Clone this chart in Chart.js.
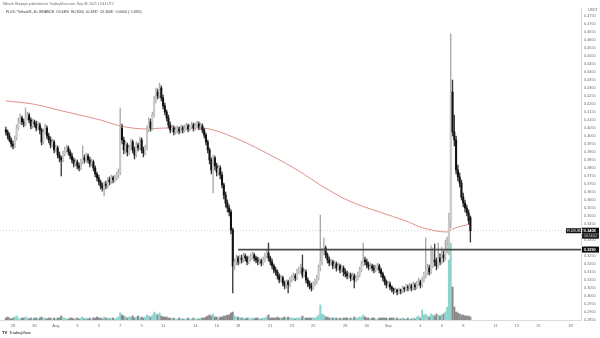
<!DOCTYPE html>
<html>
<head>
<meta charset="utf-8">
<title>FLUX / TetherUS 4h</title>
<script src="https://cdn.jsdelivr.net/npm/chart.js@4.4.1/dist/chart.umd.min.js"></script>
<style>
  html, body { margin: 0; padding: 0; background: #ffffff; overflow: hidden; }
  #wrap { position: relative; width: 600px; height: 338px; }
</style>
</head>
<body>
<div id="wrap"><canvas id="c" width="600" height="338"></canvas></div>
<script>
// 4h candles, Jul 27 08:00 UTC to Sep 8 16:00 UTC
const openP = [
  .4038,.4025,.4000,.3975,.3950,.3938,.3988,.4050,.4094,.4113,
  .4088,.4075,.4113,.4131,.4100,.4063,.4088,.4075,.4050,.4069,
  .4038,.3963,.4025,.4050,.4000,.3975,.3944,.3963,.3913,.3925,
  .3881,.3863,.3850,.3888,.3913,.3925,.3900,.3875,.3850,.3825,
  .3838,.3813,.3800,.3838,.3863,.3850,.3875,.3850,.3825,.3838,
  .3800,.3763,.3738,.3713,.3688,.3675,.3700,.3688,.3725,.3713,
  .3738,.3725,.3738,.3756,.3775,.4050,.3975,.3913,.3944,.3900,
  .3925,.3963,.3913,.3881,.3944,.3925,.3975,.3913,.3894,.3925,
  .4038,.4088,.4050,.4131,.4225,.4275,.4250,.4300,.4238,.4188,
  .4150,.4113,.4069,.4038,.4050,.4025,.4038,.4044,.4031,.4050,
  .4038,.4050,.4063,.4044,.4056,.4069,.4050,.4063,.4075,.4056,
  .4063,.4038,.4006,.3963,.3913,.3850,.3788,.3863,.3813,.3775,
  .3800,.3756,.3694,.3631,.3581,.3550,.3525,.3413,.3188,.3213,
  .3238,.3213,.3238,.3225,.3250,.3238,.3213,.3231,.3244,.3256,
  .3238,.3225,.3213,.3219,.3206,.3225,.3250,.3269,.3238,.3213,
  .3188,.3163,.3150,.3125,.3100,.3113,.3081,.3063,.3088,.3069,
  .3100,.3113,.3125,.3113,.3150,.3163,.3175,.3131,.3150,.3100,
  .3075,.3063,.3050,.3075,.3088,.3113,.3175,.3213,.3275,.3300,
  .3256,.3225,.3206,.3213,.3188,.3200,.3175,.3188,.3163,.3175,
  .3150,.3138,.3125,.3131,.3113,.3125,.3100,.3113,.3131,.3163,
  .3200,.3225,.3213,.3194,.3181,.3188,.3175,.3163,.3175,.3188,
  .3163,.3138,.3113,.3088,.3069,.3075,.3056,.3044,.3031,.3038,
  .3025,.3038,.3031,.3050,.3044,.3056,.3050,.3063,.3050,.3069,
  .3056,.3075,.3088,.3069,.3100,.3125,.3150,.3175,.3150,.3194,
  .3225,.3213,.3188,.3238,.3213,.3256,.3238,.3288,.3313,.3463,
  .4275,.4025,.3975,.3788,.3744,.3706,.3619,.3581,.3550,.3519,.3490
];
const highP = [
  .4056,.4038,.4019,.3988,.3969,.4000,.4069,.4113,.4138,.4125,
  .4106,.4175,.4150,.4144,.4113,.4106,.4100,.4094,.4088,.4081,
  .4050,.4044,.4075,.4063,.4019,.3994,.3981,.3975,.3944,.3938,
  .3900,.3875,.3906,.3931,.3944,.3938,.3913,.3894,.3863,.3856,
  .3850,.3831,.3856,.3938,.3881,.3894,.3888,.3869,.3856,.3850,
  .3813,.3775,.3756,.3725,.3706,.3713,.3719,.3738,.3744,.3756,
  .3750,.3756,.3775,.3794,.4175,.4075,.3994,.3969,.3956,.3944,
  .3981,.3975,.3931,.3963,.3956,.3994,.3988,.3931,.3944,.4063,
  .4113,.4106,.4150,.4250,.4300,.4294,.4331,.4313,.4256,.4206,
  .4163,.4131,.4088,.4069,.4063,.4056,.4063,.4056,.4069,.4063,
  .4069,.4081,.4075,.4075,.4088,.4081,.4081,.4094,.4088,.4081,
  .4075,.4050,.4019,.3975,.3925,.3863,.3881,.3875,.3831,.3819,
  .3813,.3775,.3706,.3650,.3600,.3569,.3538,.3425,.3231,.3256,
  .3250,.3256,.3256,.3269,.3263,.3250,.3250,.3263,.3275,.3269,
  .3250,.3244,.3238,.3231,.3244,.3269,.3288,.3331,.3250,.3231,
  .3200,.3181,.3163,.3138,.3131,.3125,.3094,.3100,.3100,.3119,
  .3131,.3144,.3138,.3169,.3181,.3200,.3256,.3169,.3163,.3113,
  .3094,.3081,.3088,.3106,.3131,.3194,.3506,.3300,.3363,.3313,
  .3269,.3244,.3231,.3225,.3219,.3213,.3206,.3200,.3194,.3188,
  .3169,.3156,.3150,.3144,.3144,.3138,.3131,.3150,.3181,.3219,
  .3331,.3244,.3231,.3213,.3206,.3200,.3194,.3194,.3206,.3200,
  .3175,.3150,.3125,.3100,.3094,.3088,.3063,.3050,.3050,.3044,
  .3050,.3044,.3063,.3056,.3075,.3069,.3081,.3075,.3088,.3081,
  .3094,.3113,.3100,.3119,.3150,.3363,.3200,.3194,.3313,.3300,
  .3325,.3238,.3331,.3263,.3306,.3281,.3350,.3369,.3519,.4638,
  .4350,.4131,.4000,.3819,.3769,.3725,.3644,.3600,.3569,.3538,.3500
];
const lowP = [
  .4006,.3981,.3963,.3931,.3919,.3925,.3975,.4038,.4075,.4069,
  .4056,.4063,.4100,.4081,.4044,.4050,.4056,.4031,.4038,.4013,
  .3944,.3950,.4013,.3981,.3956,.3925,.3931,.3894,.3900,.3863,
  .3838,.3750,.3838,.3875,.3900,.3881,.3856,.3831,.3806,.3813,
  .3794,.3781,.3788,.3825,.3831,.3838,.3831,.3806,.3813,.3781,
  .3744,.3719,.3694,.3669,.3656,.3625,.3669,.3675,.3694,.3700,
  .3706,.3713,.3725,.3738,.3756,.3950,.3888,.3894,.3875,.3881,
  .3913,.3894,.3856,.3869,.3906,.3913,.3894,.3869,.3881,.3913,
  .4025,.4031,.4038,.4119,.4206,.4231,.4238,.4219,.4169,.4131,
  .4094,.4050,.4019,.4025,.4006,.4013,.4019,.4013,.4019,.4019,
  .4025,.4038,.4025,.4031,.4044,.4031,.4038,.4050,.4038,.4038,
  .4019,.3988,.3944,.3894,.3825,.3763,.3644,.3788,.3750,.3756,
  .3731,.3675,.3606,.3556,.3525,.3500,.3388,.3019,.3163,.3194,
  .3194,.3200,.3206,.3213,.3219,.3194,.3200,.3219,.3231,.3219,
  .3206,.3194,.3200,.3188,.3194,.3213,.3238,.3219,.3194,.3169,
  .3144,.3131,.3106,.3081,.3088,.3063,.3044,.3050,.3019,.3056,
  .3088,.3100,.3094,.3100,.3138,.3144,.3113,.3119,.3081,.3056,
  .3044,.3031,.3038,.3063,.3075,.3100,.3156,.3194,.3256,.3238,
  .3206,.3188,.3194,.3169,.3175,.3156,.3163,.3144,.3150,.3125,
  .3119,.3106,.3113,.3094,.3100,.3050,.3088,.3100,.3119,.3150,
  .3188,.3194,.3175,.3163,.3169,.3156,.3144,.3150,.3163,.3144,
  .3119,.3094,.3069,.3050,.3056,.3038,.3025,.3013,.3019,.3006,
  .3013,.3013,.3019,.3025,.3031,.3031,.3038,.3031,.3038,.3038,
  .3044,.3063,.3050,.3056,.3088,.3113,.3131,.3131,.3138,.3175,
  .3188,.3163,.3175,.3194,.3200,.3213,.3225,.3269,.3256,.3425,
  .4000,.3938,.3763,.3719,.3681,.3600,.3556,.3525,.3500,.3450,.3337
];
const closeP = [
  .4025,.4000,.3975,.3950,.3938,.3988,.4050,.4094,.4113,.4088,
  .4075,.4113,.4131,.4100,.4063,.4088,.4075,.4050,.4069,.4038,
  .3963,.4025,.4050,.4000,.3975,.3944,.3963,.3913,.3925,.3881,
  .3863,.3850,.3888,.3913,.3925,.3900,.3875,.3850,.3825,.3838,
  .3813,.3800,.3838,.3863,.3850,.3875,.3850,.3825,.3838,.3800,
  .3763,.3738,.3713,.3688,.3675,.3700,.3688,.3725,.3713,.3738,
  .3725,.3738,.3756,.3775,.4050,.3975,.3913,.3944,.3900,.3925,
  .3963,.3913,.3881,.3944,.3925,.3975,.3913,.3894,.3925,.4038,
  .4088,.4050,.4131,.4225,.4275,.4250,.4300,.4238,.4188,.4150,
  .4113,.4069,.4038,.4050,.4025,.4038,.4044,.4031,.4050,.4038,
  .4050,.4063,.4044,.4056,.4069,.4050,.4063,.4075,.4056,.4063,
  .4038,.4006,.3963,.3913,.3850,.3788,.3863,.3813,.3775,.3800,
  .3756,.3694,.3631,.3581,.3550,.3525,.3413,.3188,.3213,.3238,
  .3213,.3238,.3225,.3250,.3238,.3213,.3231,.3244,.3256,.3238,
  .3225,.3213,.3219,.3206,.3225,.3250,.3269,.3238,.3213,.3188,
  .3163,.3150,.3125,.3100,.3113,.3081,.3063,.3088,.3069,.3100,
  .3113,.3125,.3113,.3150,.3163,.3175,.3131,.3150,.3100,.3075,
  .3063,.3050,.3075,.3088,.3113,.3175,.3213,.3275,.3300,.3256,
  .3225,.3206,.3213,.3188,.3200,.3175,.3188,.3163,.3175,.3150,
  .3138,.3125,.3131,.3113,.3125,.3100,.3113,.3131,.3163,.3200,
  .3225,.3213,.3194,.3181,.3188,.3175,.3163,.3175,.3188,.3163,
  .3138,.3113,.3088,.3069,.3075,.3056,.3044,.3031,.3038,.3025,
  .3038,.3031,.3050,.3044,.3056,.3050,.3063,.3050,.3069,.3056,
  .3075,.3088,.3069,.3100,.3125,.3150,.3175,.3150,.3194,.3225,
  .3213,.3188,.3238,.3213,.3256,.3238,.3288,.3313,.3463,.4275,
  .4025,.3975,.3788,.3744,.3706,.3619,.3581,.3550,.3519,.3472,.3408
];
// volume per candle, thousands of FLUX
const volumeK = [
  82,121,77,41,79,118,162,84,38,79,
  76,124,83,42,81,39,78,83,41,80,
  119,82,77,43,81,78,38,84,42,79,
  83,161,79,81,42,38,82,77,41,79,
  81,39,78,122,42,83,39,80,41,84,
  78,118,82,79,43,121,78,83,42,79,
  81,42,79,124,283,198,161,122,82,118,
  121,158,82,119,162,78,122,81,118,201,
  162,119,198,318,241,203,279,161,122,118,
  121,79,82,41,78,43,38,81,42,39,
  41,43,79,38,42,81,39,41,43,78,
  82,79,121,158,203,162,238,121,118,79,
  122,118,161,158,199,203,282,318,162,121,
  118,81,79,82,41,78,83,39,81,42,
  79,82,41,43,78,81,122,201,79,83,
  81,78,118,82,79,83,121,78,119,81,
  78,83,41,79,82,81,158,79,83,78,
  81,79,83,78,121,198,602,238,203,118,
  121,82,79,83,78,81,42,79,41,82,
  79,83,42,78,41,119,82,79,121,118,
  201,122,79,83,41,78,82,39,42,81,
  79,83,78,82,41,79,83,78,42,81,
  41,39,82,43,38,79,42,41,81,39,
  122,158,81,402,203,238,162,121,241,198,
  162,238,201,158,203,241,322,518,2403,3082,
  1318,522,321,279,238,201,198,162,158,161,119
];
// 200-period moving average, sampled at candle indices
const maIndex = [0, 15, 34, 53, 64, 78, 89, 109, 116, 131, 148, 165, 176, 191, 209, 224, 232, 247, 250, 260];
const maValue = [.4219,.4200,.4150,.4100,.4063,.4044,.4050,.4050,.4038,.3975,.3881,.3775,.3694,.3600,.3525,.3469,.3431,.3400,.3419,.3450];

// time axis in days from Jul 28 00:00 UTC
const firstCandleDay = -2 / 3;
const candleStep = 1 / 6;
const xMin = -1.213;
const xMax = 52.985;
const tickDays = [0, 2, 4, 6, 8, 10, 12, 14, 17, 19, 21, 24, 26, 28, 31, 33, 35, 38, 40, 42, 45, 47, 49, 52];
const tickText = ['28','30','Aug','3','5','7','9','11','14','16','18','21','23','25','28','30','Sep','4','6','8','11','13','15','18'];

const supportLevel = 0.3290;
const supportFromDay = 21;
const lastPrice = 0.3408;
const headerLine1 = 'Mikush Shepsye published on TradingView.com, Sep 08, 2021 19:43 UTC';
const headerLine2 = 'FLUX / TetherUS, 4h, BINANCE  O0.3490  H0.3500  L0.3337  C0.3408  \u22120.0064 (\u22121.83%)';
const FONT = '"Liberation Sans", Arial, sans-serif';

const candleDay = i => firstCandleDay + i * candleStep;
const isUp = i => closeP[i] >= openP[i];

const bodies = closeP.map((c, i) => ({ x: candleDay(i), y: [openP[i], c] }));
const wicks = highP.map((h, i) => ({ x: candleDay(i), y: [lowP[i], h] }));
const vols = volumeK.map((v, i) => ({ x: candleDay(i), y: v }));
const maLine = maIndex.map((k, j) => ({ x: candleDay(k), y: maValue[j] }));

const overlay = {
  id: 'overlay',
  afterDraw(chart) {
    const { ctx, chartArea: a, scales } = chart;
    const y = scales.y;
    ctx.save();
    ctx.textBaseline = 'middle';
    // header
    ctx.font = '3.4px ' + FONT;
    ctx.fillStyle = '#6b6b6b';
    ctx.fillText(headerLine1, 3, 4);
    ctx.fillStyle = '#333';
    ctx.fillText(headerLine2, 6, 12.5);
    // currency on the price scale
    ctx.font = '3.6px ' + FONT;
    ctx.fillStyle = '#666';
    ctx.fillText('USDT', 588, 10);

    const tag = (val, text, sub) => {
      const py = y.getPixelForValue(val);
      ctx.fillStyle = '#111';
      ctx.fillRect(a.right + 1, py - 3, 17, 6);
      ctx.fillStyle = '#fff';
      ctx.font = 'bold 3.8px ' + FONT;
      ctx.fillText(text, a.right + 3, py);
      if (sub) {
        ctx.fillStyle = '#222';
        ctx.fillRect(a.right + 1, py + 3, 17, 5);
        ctx.fillStyle = '#ddd';
        ctx.font = '3.2px ' + FONT;
        ctx.fillText(sub, a.right + 3.5, py + 5.5);
      }
      return py;
    };
    const py = tag(lastPrice, lastPrice.toFixed(4), '00:16:52');
    // symbol tag left of the price scale
    ctx.fillStyle = '#111';
    ctx.fillRect(a.right - 15, py - 2.5, 15, 5);
    ctx.fillStyle = '#fff';
    ctx.font = '3.2px ' + FONT;
    ctx.fillText('FLUXUSDT', a.right - 14, py);
    tag(supportLevel, supportLevel.toFixed(4));

    // branding
    ctx.fillStyle = '#222';
    ctx.font = 'bold 4.2px ' + FONT;
    ctx.fillText('TV', 2, 333);
    ctx.font = '4px ' + FONT;
    ctx.fillText('TradingView', 9, 333);
    ctx.restore();
  }
};

new Chart(document.getElementById('c'), {
  type: 'bar',
  data: {
    datasets: [
      {
        type: 'line', label: 'level', order: 0,
        data: [{ x: supportFromDay, y: supportLevel }, { x: xMax, y: supportLevel }],
        borderColor: '#4a4a4a', borderWidth: 1.6, pointRadius: 0
      },
      {
        label: 'body', order: 1, grouped: false, barThickness: 1.4, minBarLength: 1,
        data: bodies,
        backgroundColor: c => isUp(c.dataIndex) ? '#c9c9c9' : '#111111',
        borderWidth: 0
      },
      {
        label: 'wick', order: 2, grouped: false, barThickness: 0.7,
        data: wicks,
        backgroundColor: c => isUp(c.dataIndex) ? '#a9a9a9' : '#3a3a3a',
        borderWidth: 0
      },
      {
        type: 'line', label: 'MA 200', order: 3,
        data: maLine, borderColor: '#e0837c', borderWidth: 0.9,
        pointRadius: 0, cubicInterpolationMode: 'monotone'
      },
      {
        type: 'line', label: 'last', order: 4,
        data: [{ x: xMin, y: lastPrice }, { x: xMax, y: lastPrice }],
        borderColor: '#c4c4c4', borderWidth: 0.8, borderDash: [1, 2], pointRadius: 0
      },
      {
        label: 'volume', order: 5, grouped: false, barThickness: 1.4, yAxisID: 'yv',
        data: vols,
        backgroundColor: c => isUp(c.dataIndex) ? '#8dd4cf' : '#8a8a8a',
        borderWidth: 0
      }
    ]
  },
  options: {
    responsive: false,
    animation: false,
    events: [],
    devicePixelRatio: 1,
    layout: { padding: { top: 8, left: 0, right: 0, bottom: 0 } },
    plugins: { legend: { display: false }, tooltip: { enabled: false } },
    scales: {
      x: {
        type: 'linear', min: xMin, max: xMax, offset: false,
        grid: { display: false, drawTicks: false },
        border: { display: true, color: '#dcdcdc' },
        afterBuildTicks: s => { s.ticks = tickDays.map(v => ({ value: v })); },
        afterFit: s => { s.height = 18; },
        ticks: {
          autoSkip: false, maxRotation: 0, padding: 3,
          font: { size: 4, family: FONT }, color: '#6f6f6f',
          callback: v => { const k = tickDays.indexOf(v); return k < 0 ? '' : tickText[k]; }
        }
      },
      y: {
        type: 'linear', position: 'right', min: 0.285, max: 0.48,
        grid: { display: false, drawTicks: false },
        border: { display: true, color: '#dcdcdc' },
        afterFit: s => { s.width = 19; },
        ticks: {
          stepSize: 0.005, autoSkip: false, padding: 3,
          font: { size: 3.8, family: FONT }, color: '#6f6f6f',
          callback: v => v > 0.4799 ? '' : Number(v).toFixed(4)
        }
      },
      yv: { type: 'linear', display: false, min: 0, max: 12480 }
    }
  },
  plugins: [overlay]
});
</script>
</body>
</html>
